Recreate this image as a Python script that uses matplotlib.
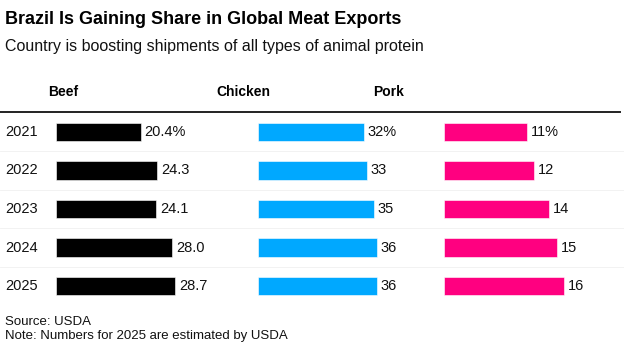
import numpy as np
import matplotlib.pyplot as plt

years = ['2021', '2022', '2023', '2024', '2025']
beef = [20.4, 24.3, 24.1, 28.0, 28.7]
chicken = [32, 33, 35, 36, 36]
pork = [11, 12, 14, 15, 16]
beef_labels = ['20.4%', '24.3', '24.1', '28.0', '28.7']
chicken_labels = ['32%', '33', '35', '36', '36']
pork_labels = ['11%', '12', '14', '15', '16']

plt.rcParams['font.family'] = ['Liberation Sans', 'DejaVu Sans']

W, H = 624, 349
fig = plt.figure(figsize=(W / 100, H / 100), dpi=100)


def px_axes(x0, y0, w, h):
    # pixel box (top-left origin) -> figure axes
    return fig.add_axes([x0 / W, 1 - (y0 + h) / H, w / W, h / H])


top, rowh = 112.75, 38.5
n = len(years)
ypos = np.arange(n)

# background axes: separators and year labels
bg = px_axes(0, top, W, rowh * n)
bg.set_xlim(0, W)
bg.set_ylim(n - 0.5, -0.5)
bg.axis('off')
for k in range(n - 1):
    bg.axhline(k + 0.5, color='#f0f0f0', lw=0.6)
for k, yr in enumerate(years):
    bg.text(5, k, yr, va='center', ha='left', fontsize=10.5, color='#111111')

panels = [
    (56, beef, beef_labels, '#000000', 4.15, 'Beef', 48),
    (258, chicken, chicken_labels, '#00A8FF', 3.3, 'Chicken', 216),
    (444, pork, pork_labels, '#FF0080', 7.5, 'Pork', 373),
]
for x0, vals, labs, col, scale, name, hx in panels:
    ax = px_axes(x0, top, 150, rowh * n)
    ax.barh(ypos, vals, height=0.47, color=col, edgecolor='white', linewidth=0.4)
    ax.set_xlim(0, 150 / scale)
    ax.set_ylim(n - 0.5, -0.5)
    ax.axis('off')
    for k, (v, lab) in enumerate(zip(vals, labs)):
        ax.text(v + 4 / scale, k, lab, va='center', ha='left', fontsize=10.5, color='#111111')
    fig.text(hx / W, 1 - 92 / H, name, fontsize=10, fontweight='bold', va='center', ha='left')

# header rule
fig.add_artist(plt.Line2D([0, 620 / W], [1 - 112 / H, 1 - 112 / H], color='#222222', lw=1.4))

fig.text(5 / W, 1 - 19 / H, 'Brazil Is Gaining Share in Global Meat Exports',
         fontsize=13, fontweight='bold', va='center', ha='left')
fig.text(5 / W, 1 - 47 / H, 'Country is boosting shipments of all types of animal protein',
         fontsize=11.5, va='center', ha='left', color='#111111')
fig.text(5 / W, 1 - 322 / H, 'Source: USDA', fontsize=9.5, va='center', ha='left', color='#111111')
fig.text(5 / W, 1 - 336 / H, 'Note: Numbers for 2025 are estimated by USDA', fontsize=9.5,
         va='center', ha='left', color='#111111')

fig.savefig('out.png', dpi=100)
